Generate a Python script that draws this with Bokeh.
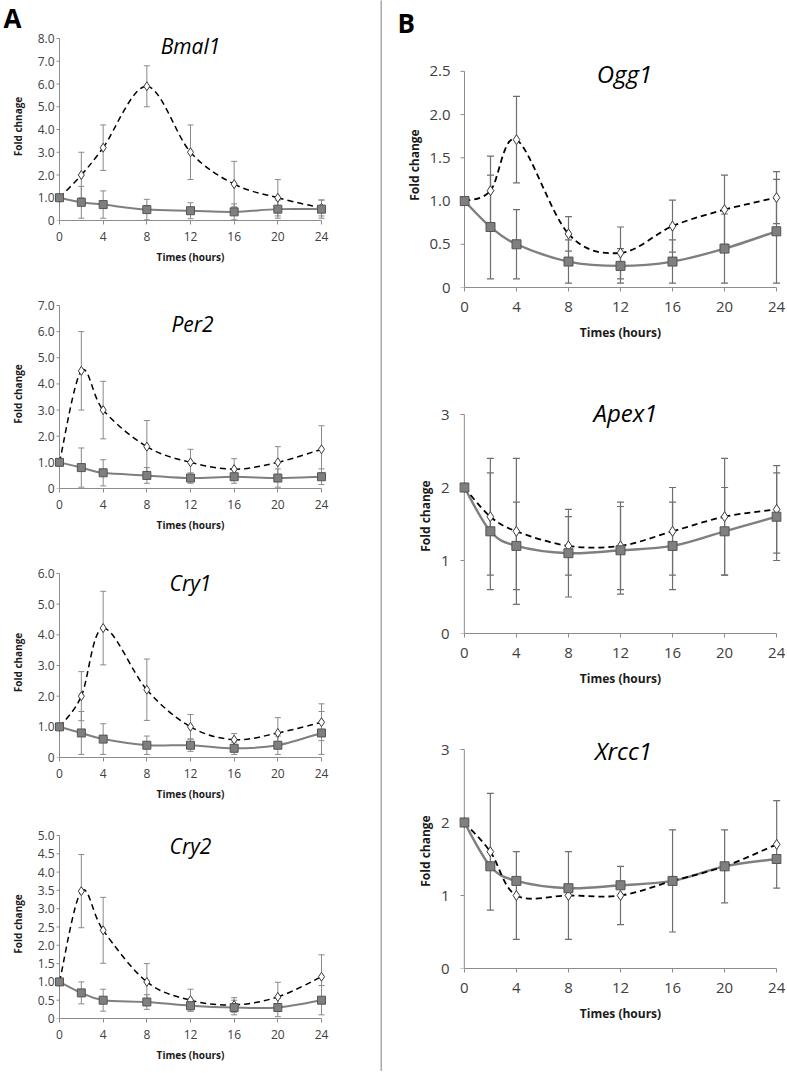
from bokeh.plotting import figure
from bokeh.models import Range1d, FixedTicker, Whisker, TeeHead, ColumnDataSource, Label
from bokeh.layouts import row, column
from bokeh.embed import file_html
from bokeh.resources import INLINE

# ---------------- data ----------------
times = [0, 2, 4, 8, 12, 16, 20, 24]
x_ticks = [0, 4, 8, 12, 16, 20, 24]
x_title = "Times (hours)"

genes = ["Bmal1", "Per2", "Cry1", "Cry2", "Ogg1", "Apex1", "Xrcc1"]
y_titles = ["Fold chnage", "Fold change", "Fold change", "Fold change",
            "Fold change", "Fold change", "Fold change"]
panel_letters = ["A", "B"]

bmal1_dash = [1.0, 2.0, 3.2, 5.9, 3.0, 1.6, 1.0, 0.55]
bmal1_dash_err = [0, 1.0, 1.0, 0.9, 1.2, 1.0, 0.8, 0.35]
bmal1_sq = [1.0, 0.8, 0.7, 0.48, 0.43, 0.38, 0.5, 0.5]
bmal1_sq_err = [0, 0.7, 0.6, 0.45, 0.35, 0.35, 0.4, 0.4]

per2_dash = [1.0, 4.5, 3.0, 1.6, 1.0, 0.74, 1.0, 1.5]
per2_dash_err = [0, 1.5, 1.1, 1.0, 0.5, 0.4, 0.6, 0.9]
per2_sq = [1.0, 0.8, 0.6, 0.5, 0.4, 0.45, 0.4, 0.45]
per2_sq_err = [0, 0.75, 0.5, 0.3, 0.2, 0.25, 0.35, 0.3]

cry1_dash = [1.0, 2.0, 4.22, 2.21, 1.0, 0.58, 0.8, 1.15]
cry1_dash_err = [0, 0.8, 1.2, 1.0, 0.4, 0.2, 0.5, 0.6]
cry1_sq = [1.0, 0.8, 0.6, 0.4, 0.4, 0.3, 0.4, 0.8]
cry1_sq_err = [0, 0.7, 0.5, 0.3, 0.2, 0.2, 0.3, 0.7]

cry2_dash = [1.0, 3.48, 2.41, 1.0, 0.5, 0.37, 0.59, 1.14]
cry2_dash_err = [0, 1.0, 0.9, 0.5, 0.3, 0.2, 0.4, 0.6]
cry2_sq = [1.0, 0.7, 0.5, 0.45, 0.35, 0.3, 0.3, 0.5]
cry2_sq_err = [0, 0.3, 0.3, 0.2, 0.15, 0.2, 0.25, 0.4]

ogg1_dash = [1.0, 1.12, 1.71, 0.62, 0.4, 0.71, 0.9, 1.04]
ogg1_dash_err = [0, 0.4, 0.5, 0.2, 0.3, 0.3, 0.4, 0.3]
ogg1_sq = [1.0, 0.7, 0.5, 0.3, 0.25, 0.3, 0.45, 0.65]
ogg1_sq_err = [0, 0.6, 0.4, 0.25, 0.2, 0.25, 0.4, 0.6]

apex1_dash = [2.0, 1.6, 1.4, 1.2, 1.2, 1.4, 1.6, 1.7]
apex1_dash_err = [0, 0.8, 1.0, 0.4, 0.6, 0.6, 0.8, 0.6]
apex1_sq = [2.0, 1.4, 1.2, 1.1, 1.14, 1.2, 1.4, 1.6]
apex1_sq_err = [0, 0.8, 0.6, 0.6, 0.6, 0.6, 0.6, 0.6]

xrcc1_dash = [2.0, 1.6, 1.0, 1.0, 1.0, 1.2, 1.4, 1.7]
xrcc1_dash_err = [0, 0.8, 0.6, 0.6, 0.4, 0.7, 0.5, 0.6]
xrcc1_sq = [2.0, 1.4, 1.2, 1.1, 1.14, 1.2, 1.4, 1.5]
xrcc1_sq_err = [0, 0, 0, 0, 0, 0, 0, 0]

yticks_bmal1 = [0, 1, 2, 3, 4, 5, 6, 7, 8]
ylabels_bmal1 = ["0", "1.0", "2.0", "3.0", "4.0", "5.0", "6.0", "7.0", "8.0"]
yticks_per2 = [0, 1, 2, 3, 4, 5, 6, 7]
ylabels_per2 = ["0", "1.0", "2.0", "3.0", "4.0", "5.0", "6.0", "7.0"]
yticks_cry1 = [0, 1, 2, 3, 4, 5, 6]
ylabels_cry1 = ["0", "1.0", "2.0", "3.0", "4.0", "5.0", "6.0"]
yticks_cry2 = [0, 0.5, 1, 1.5, 2, 2.5, 3, 3.5, 4, 4.5, 5]
ylabels_cry2 = ["0", "0.5", "1.0", "1.5", "2.0", "2.5", "3.0", "3.5", "4.0", "4.5", "5.0"]
yticks_ogg1 = [0, 0.5, 1, 1.5, 2, 2.5]
ylabels_ogg1 = ["0", "0.5", "1.0", "1.5", "2.0", "2.5"]
yticks_apex1 = [0, 1, 2, 3]
ylabels_apex1 = ["0", "1", "2", "3"]
yticks_xrcc1 = [0, 1, 2, 3]
ylabels_xrcc1 = ["0", "1", "2", "3"]

series = [
    (bmal1_dash, bmal1_dash_err, bmal1_sq, bmal1_sq_err, yticks_bmal1, ylabels_bmal1),
    (per2_dash, per2_dash_err, per2_sq, per2_sq_err, yticks_per2, ylabels_per2),
    (cry1_dash, cry1_dash_err, cry1_sq, cry1_sq_err, yticks_cry1, ylabels_cry1),
    (cry2_dash, cry2_dash_err, cry2_sq, cry2_sq_err, yticks_cry2, ylabels_cry2),
    (ogg1_dash, ogg1_dash_err, ogg1_sq, ogg1_sq_err, yticks_ogg1, ylabels_ogg1),
    (apex1_dash, apex1_dash_err, apex1_sq, apex1_sq_err, yticks_apex1, ylabels_apex1),
    (xrcc1_dash, xrcc1_dash_err, xrcc1_sq, xrcc1_sq_err, yticks_xrcc1, ylabels_xrcc1),
]

# ---------------- layout (page pixels, origin top-left) ----------------
# fig_x0, fig_w, x0_px, x24_px, fig_y0, fig_h, ytop_px, y0_px, title_dy, title_dx,
# big, ylab_standoff, ylab_axis_standoff, top_pad
layout = [
    (0, 380, 59, 321, 0, 272, 38, 220, 7, 0, False, 0, 10, 6),
    (0, 380, 59, 321, 272, 268, 305, 488, 18, 2, False, 0, 10, 6),
    (0, 380, 59, 321, 540, 263, 573, 757, 9, 0, False, 0, 10, 6),
    (0, 380, 59, 321, 803, 268, 835, 1018, 10, 0, False, 0, 10, 6),
    (382, 403, 464, 776, 0, 365, 70, 287, 2, 4, True, 9, 3, 29),
    (382, 403, 453, 776, 365, 332, 414, 633, -2, 5, True, 10, 4, 16),
    (382, 403, 452, 776, 697, 374, 749, 968, 1, 3, True, 10, 4, 16),
]
PAD = 5
FONT = "Open Sans"
AX_COL = "#8c8c8c"


def bezier_source(xs, ys):
    n = len(xs)
    d = dict(x0=[], y0=[], x1=[], y1=[], cx0=[], cy0=[], cx1=[], cy1=[])
    for i in range(n - 1):
        xm, ym = (xs[i - 1], ys[i - 1]) if i > 0 else (xs[i], ys[i])
        xp, yp = (xs[i + 2], ys[i + 2]) if i + 2 < n else (xs[i + 1], ys[i + 1])
        d["x0"].append(xs[i]); d["y0"].append(ys[i])
        d["x1"].append(xs[i + 1]); d["y1"].append(ys[i + 1])
        d["cx0"].append(xs[i] + (xs[i + 1] - xm) / 6.0)
        d["cy0"].append(ys[i] + (ys[i + 1] - ym) / 6.0)
        d["cx1"].append(xs[i + 1] - (xp - xs[i]) / 6.0)
        d["cy1"].append(ys[i + 1] - (yp - ys[i]) / 6.0)
    return ColumnDataSource(d)


def err_source(xs, ys, es):
    t, lo, hi = [], [], []
    for x, y, e in zip(xs, ys, es):
        if e > 0:
            t.append(x); lo.append(y - e); hi.append(y + e)
    return ColumnDataSource(dict(t=t, lo=lo, hi=hi))


def make_panel(idx):
    dash, dash_err, sq, sq_err, yt, yl = series[idx]
    (fx0, fw, x0p, x24p, fy0, fh, ytp, y0p, tdy, tdx, big, ylso, ylaso, top_pad) = layout[idx]
    ymax = yt[-1]
    kx = (x24p - x0p) / 24.0
    ky = (y0p - ytp) / float(ymax)
    pad_u = PAD / kx
    bl = x0p - PAD - fx0
    fwid = (x24p - x0p) + 2 * PAD
    br = fw - bl - fwid
    bt = ytp - top_pad - fy0
    fhei = y0p - ytp + top_pad
    bb = fh - bt - fhei

    tick_fs = "15px" if big else "12px"
    lab_fs = "12px" if big else "10px"
    title_fs = "24px" if big else "21px"

    p = figure(width=fw, height=fh, output_backend="svg", toolbar_location=None,
               x_range=Range1d(-pad_u, 24 + pad_u),
               y_range=Range1d(0, ymax + top_pad / ky),
               min_border_left=bl, min_border_right=br, min_border_top=bt,
               min_border_bottom=bb)
    p.outline_line_color = None
    p.grid.visible = False
    p.background_fill_color = "white"
    p.border_fill_color = "white"

    xa = p.xaxis[0]
    xa.ticker = FixedTicker(ticks=x_ticks)
    xa.bounds = (0, 24)
    xa.axis_line_color = AX_COL
    xa.major_tick_line_color = AX_COL
    xa.minor_tick_line_color = None
    xa.major_tick_in = 0
    xa.major_tick_out = 4
    xa.major_label_standoff = 10 if big else 7
    xa.major_label_text_font = FONT
    xa.major_label_text_font_size = tick_fs
    xa.major_label_text_color = "#404040"
    xa.axis_label = x_title
    xa.axis_label_text_font = FONT
    xa.axis_label_text_font_style = "bold"
    xa.axis_label_text_font_size = lab_fs
    xa.axis_label_text_color = "#1a1a1a"
    xa.axis_label_standoff = 9 if big else 6

    ya = p.yaxis[0]
    ya.ticker = FixedTicker(ticks=yt)
    ya.major_label_overrides = {t: l for t, l in zip(yt, yl)}
    ya.axis_line_color = None
    ya.major_tick_line_color = None
    ya.minor_tick_line_color = None
    ya.major_tick_in = 0
    ya.major_tick_out = 0
    ya.major_label_standoff = ylso
    ya.major_label_text_font = FONT
    ya.major_label_text_font_size = tick_fs
    ya.major_label_text_color = "#404040"
    ya.axis_label = y_titles[idx]
    ya.axis_label_text_font = FONT
    ya.axis_label_text_font_style = "bold"
    ya.axis_label_text_font_size = lab_fs
    ya.axis_label_text_color = "#1a1a1a"
    ya.axis_label_standoff = ylaso

    # the value axis line at x = 0 and its outward ticks
    tick_len = (4 if big else 3) / kx
    p.segment(x0=[0], y0=[0], x1=[0], y1=[ymax], line_color=AX_COL, line_width=1)
    p.segment(x0=[-tick_len] * len(yt), y0=yt, x1=[0] * len(yt), y1=yt,
              line_color=AX_COL, line_width=1)

    err_col = "#6e6e6e" if big else "#8a8a8a"
    err_w = 1.2 if big else 1.0
    cap = 7 if big else 6
    for ys, es in ((dash, dash_err), (sq, sq_err)):
        src = err_source(times, ys, es)
        w = Whisker(base="t", lower="lo", upper="hi", source=src, dimension="height",
                    line_color=err_col, line_width=err_w,
                    upper_head=TeeHead(size=cap, line_color=err_col, line_width=err_w),
                    lower_head=TeeHead(size=cap, line_color=err_col, line_width=err_w))
        p.add_layout(w)

    p.bezier(x0="x0", y0="y0", x1="x1", y1="y1", cx0="cx0", cy0="cy0",
             cx1="cx1", cy1="cy1", source=bezier_source(times, sq),
             line_color="#7f7f7f", line_width=2.4 if big else 2.0)
    p.bezier(x0="x0", y0="y0", x1="x1", y1="y1", cx0="cx0", cy0="cy0",
             cx1="cx1", cy1="cy1", source=bezier_source(times, dash),
             line_color="#000000", line_width=1.8 if big else 1.5,
             line_dash="6 4")

    p.scatter(times, dash, marker="diamond", size=10 if big else 9,
              fill_color="white", line_color="#3a3a3a", line_width=1)
    p.scatter(times, sq, marker="square", size=9 if big else 8,
              fill_color="#7f7f7f", line_color="#555555", line_width=1)

    p.add_layout(Label(x=12, y=ymax, x_offset=tdx, y_offset=-tdy, text=genes[idx],
                       text_align="center", text_baseline="middle",
                       text_font=FONT, text_font_style="italic",
                       text_font_size=title_fs, text_color="#000000"))

    if idx in (0, 4):
        letter_left = 3 if idx == 0 else 397
        p.title.text = panel_letters[0 if idx == 0 else 1]
        p.title.align = "left"
        p.title.offset = letter_left - (x0p - PAD)
        p.title.text_font = FONT
        p.title.text_font_style = "bold"
        p.title.text_font_size = "26px"
        p.title.text_color = "#000000"
        p.title.standoff = -7 if idx == 0 else 4
    return p


figs = [make_panel(i) for i in range(7)]

divider = figure(width=2, height=1071, output_backend="svg", toolbar_location=None,
                 x_range=Range1d(0, 1), y_range=Range1d(0, 1),
                 min_border_left=0, min_border_right=0, min_border_top=0,
                 min_border_bottom=0)
divider.axis.visible = False
divider.grid.visible = False
divider.outline_line_color = None
divider.background_fill_color = "#a8a8a8"
divider.border_fill_color = "#a8a8a8"

left = column(*figs[:4], spacing=0)
right = column(*figs[4:], spacing=0)
page = row(left, divider, right, spacing=0)

open("out.html", "w").write(file_html(page, INLINE))
